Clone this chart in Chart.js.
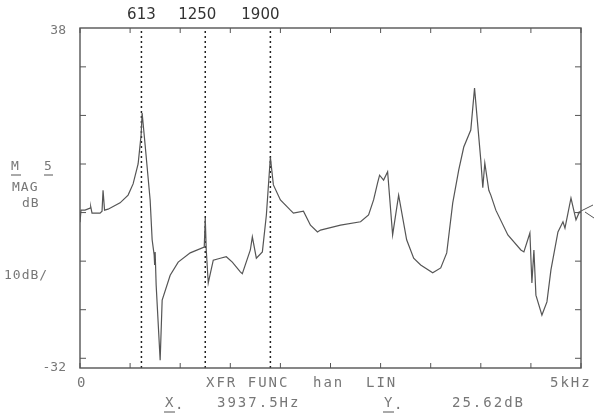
<!DOCTYPE html>
<html lang="en">
<head>
  <meta charset="UTF-8">
  <title>XFR FUNC</title>
  <script src="https://cdn.jsdelivr.net/npm/chart.js"></script>
  <style>
    body { margin: 0; background: #fff; }
    canvas { display: block; }
  </style>
</head>
<body>
  <canvas id="xfr" width="603" height="414"></canvas>

  <script>
    // frequency (Hz) and magnitude (dB)
    const freqs = [0, 10, 50, 100, 107, 120, 200, 220, 230, 245, 280, 400, 480, 530, 580, 610, 620,
      650, 700, 720, 740, 745, 750, 760, 800, 820, 900, 980, 1100, 1240, 1250, 1260, 1280,
      1330, 1400, 1460, 1520, 1600, 1620, 1700, 1720, 1760, 1820, 1860, 1900, 1930, 2000,
      2100, 2130, 2230, 2300, 2370, 2400, 2600, 2800, 2880, 2930, 2970, 2990, 3030, 3070,
      3120, 3180, 3260, 3330, 3400, 3520, 3600, 3660, 3720, 3780, 3830, 3900, 3937.5, 4000,
      4020, 4040, 4080, 4100, 4150, 4270, 4400, 4430, 4490, 4510, 4530, 4550, 4610, 4660,
      4700, 4770, 4820, 4840, 4870, 4900, 4950, 4980, 5000];
    const mags = [-2.0, 0.5, 0.5, 0.9, 1.2, -0.1, -0.1, 0.3, 4.6, 0.5, 0.7, 2.0, 3.6, 5.9, 10.0, 16.0, 20.5,
      13.9, 2.6, -5.6, -8.7, -10.8, -8.1, -14.9, -30.4, -18.0, -12.9, -10.2, -8.3, -7.1, -1.1, -7.7, -14.5,
      -9.8, -9.4, -9.1, -10.2, -12.2, -12.6, -7.7, -5.0, -9.4, -8.1, -0.5, 11.4, 5.7, 2.6,
      0.5, -0.1, 0.3, -2.6, -4.0, -3.6, -2.6, -1.9, -0.5, 2.6, 6.1, 7.7, 6.7, 8.4,
      -4.6, 3.6, -5.6, -9.4, -10.8, -12.4, -11.4, -8.3, 2.0, 8.8, 13.5, 17.0, 25.62, 10.8,
      5.1, 10.2, 4.6, 3.6, 0.5, -4.6, -7.7, -8.1, -4.2, -14.5, -7.7, -17.0, -21.1, -18.4,
      -11.8, -4.0, -1.9, -3.2, -0.1, 3.0, -1.5, -0.1, 0.1];

    // dotted marker lines
    const markerFreqs = [613, 1250, 1900];
    const markerLabels = ['613', '1250', '1900'];

    const yMin = -32, yMax = 38;
    const xTicks = [0, 500, 1000, 1500, 2000, 2500, 3000, 3500, 4000, 4500, 5000];
    const yTicks = [-30, -20, -10, 0, 10, 20, 30];

    const trace = freqs.map((f, i) => ({ x: f, y: mags[i] }));

    const markerSets = markerFreqs.map(f => ({
      data: [{ x: f, y: yMin }, { x: f, y: yMax }],
      borderColor: '#222',
      borderWidth: 1.5,
      borderDash: [2, 3],
      pointRadius: 0
    }));

    // frame, inward ticks and all the plotter text
    const plotterText = {
      id: 'plotterText',
      afterDraw(chart) {
        const c = chart.ctx;
        const a = chart.chartArea;
        const xs = chart.scales.x, ys = chart.scales.y;
        c.save();
        c.strokeStyle = '#555';
        c.lineWidth = 1.4;
        c.strokeRect(a.left, a.top, a.right - a.left, a.bottom - a.top);

        c.lineWidth = 1;
        xTicks.forEach(v => {
          const px = xs.getPixelForValue(v);
          c.beginPath();
          c.moveTo(px, a.top); c.lineTo(px, a.top + 5);
          c.moveTo(px, a.bottom); c.lineTo(px, a.bottom - 5);
          c.stroke();
        });
        yTicks.forEach(v => {
          const py = ys.getPixelForValue(v);
          c.beginPath();
          c.moveTo(a.left, py); c.lineTo(a.left + 6, py);
          c.moveTo(a.right, py); c.lineTo(a.right - 6, py);
          c.stroke();
        });

        // small reference cross on the right edge
        c.beginPath();
        c.moveTo(a.right - 4, 213); c.lineTo(a.right + 12, 205);
        c.moveTo(a.right + 4, 212); c.lineTo(a.right + 13, 218);
        c.stroke();

        // marker labels above the frame
        c.fillStyle = '#333';
        c.font = '15px "DejaVu Sans"';
        c.textAlign = 'center';
        c.textBaseline = 'middle';
        const offs = [0, -8, -10];
        markerFreqs.forEach((f, i) => {
          c.fillText(markerLabels[i], xs.getPixelForValue(f) + offs[i], 15);
        });

        c.fillStyle = '#777';
        c.font = '13px "DejaVu Sans Mono"';
        c.textAlign = 'right';
        c.fillText(String(yMax), 66, 31);
        c.fillText('-32', 66, 368);

        c.textAlign = 'left';
        c.letterSpacing = '1px';
        c.fillText('M', 11, 167);
        c.fillText('5', 44, 167);
        c.fillText('MAG', 12, 188);
        c.fillText('dB', 22, 204);
        c.fillText('10dB/', 4, 276);
        c.beginPath();
        c.moveTo(11, 175); c.lineTo(21, 175);
        c.moveTo(44, 175); c.lineTo(53, 175);
        c.stroke();

        c.font = '14px "DejaVu Sans Mono"';
        c.letterSpacing = '2px';
        c.fillText('0', 77, 383);
        c.fillText('XFR FUNC', 206, 383);
        c.fillText('han', 313, 383);
        c.fillText('LIN', 366, 383);
        c.fillText('5kHz', 550, 383);

        c.fillText('X', 165, 403);
        c.fillText('.', 175, 405);
        c.fillText('3937.5Hz', 217, 403);
        c.fillText('Y', 384, 403);
        c.fillText('.', 394, 405);
        c.fillText('25.62dB', 452, 403);
        c.beginPath();
        c.moveTo(164, 412); c.lineTo(175, 412);
        c.moveTo(383, 412); c.lineTo(394, 412);
        c.stroke();
        c.restore();
      }
    };

    new Chart(document.getElementById('xfr').getContext('2d'), {
      type: 'line',
      data: {
        datasets: [{
          data: trace,
          borderColor: '#555',
          borderWidth: 1.2,
          pointRadius: 0,
          tension: 0
        }].concat(markerSets)
      },
      options: {
        responsive: false,
        animation: false,
        layout: { padding: { left: 80, right: 22, top: 28, bottom: 46 } },
        plugins: { legend: { display: false }, tooltip: { enabled: false } },
        scales: {
          x: { type: 'linear', min: 0, max: 5000, display: false },
          y: { min: yMin, max: yMax, display: false }
        }
      },
      plugins: [plotterText]
    });
  </script>
</body>
</html>
